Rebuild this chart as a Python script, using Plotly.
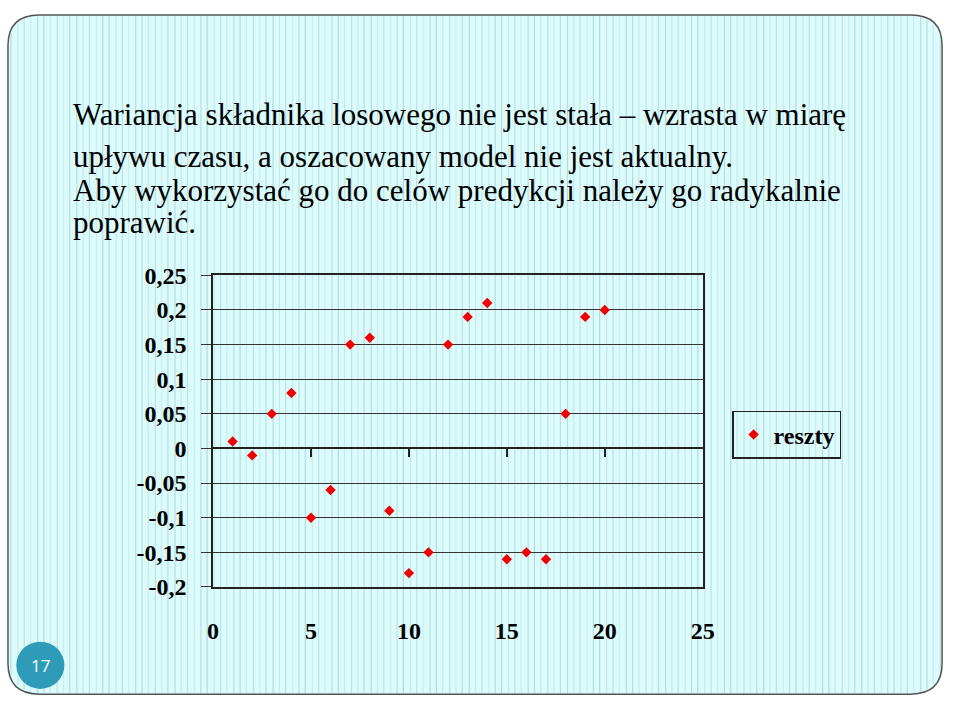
import math
import plotly.graph_objects as go

# ---------------- data ----------------
x_values = [1, 2, 3, 4, 5, 6, 7, 8, 9, 10, 11, 12, 13, 14, 15, 16, 17, 18, 19, 20]
residuals = [0.01, -0.01, 0.05, 0.08, -0.10, -0.06, 0.15, 0.16, -0.09, -0.18,
             -0.15, 0.15, 0.19, 0.21, -0.16, -0.15, -0.16, 0.05, 0.19, 0.20]
series_name = "reszty"

y_tick_vals = [-0.2, -0.15, -0.1, -0.05, 0, 0.05, 0.1, 0.15, 0.2, 0.25]
y_tick_labels = ["-0,2", "-0,15", "-0,1", "-0,05", "0", "0,05", "0,1", "0,15", "0,2", "0,25"]
x_tick_vals = [0, 5, 10, 15, 20, 25]
x_tick_labels = ["0", "5", "10", "15", "20", "25"]
x_inner_ticks = [5, 10, 15, 20]

title_lines = [
    "Wariancja składnika losowego nie jest stała – wzrasta w miarę",
    "upływu czasu, a oszacowany model nie jest aktualny.",
    "Aby wykorzystać go do celów predykcji należy go radykalnie",
    "poprawić.",
]
slide_number = "17"

# ---------------- layout helpers ----------------
W, H = 959, 712
def px(x):
    return x / W
def py(y):
    return 1 - y / H

SERIF = "Liberation Serif, Times New Roman, serif"

dom_x = [px(211), px(710)]
dom_y = [py(595.7), py(272.3)]
y_min, y_max = -0.2, 0.25
zero_pos = dom_y[0] + (0 - y_min) / (y_max - y_min) * (dom_y[1] - dom_y[0])

fig = go.Figure()
fig.add_trace(go.Scatter(
    x=x_values, y=residuals, mode="markers", name=series_name,
    marker=dict(symbol="diamond", size=8, color="#f00000"),
    xaxis="x", yaxis="y",
))
# invisible helper trace so the zero-crossing axis is drawn
fig.add_trace(go.Scatter(x=[0], y=[None], xaxis="x2", yaxis="y",
                         showlegend=False, hoverinfo="skip", mode="markers"))

# ---------------- background shapes ----------------
shapes = []
x0, y0, x1, y1, r = 2, 2, 954, 707, 32
path = (f"M {px(x0+r)},{py(y0)} L {px(x1-r)},{py(y0)} "
        f"Q {px(x1)},{py(y0)} {px(x1)},{py(y0+r)} "
        f"L {px(x1)},{py(y1-r)} Q {px(x1)},{py(y1)} {px(x1-r)},{py(y1)} "
        f"L {px(x0+r)},{py(y1)} Q {px(x0)},{py(y1)} {px(x0)},{py(y1-r)} "
        f"L {px(x0)},{py(y0+r)} Q {px(x0)},{py(y0)} {px(x0+r)},{py(y0)} Z")
shapes.append(dict(type="path", path=path, xref="paper", yref="paper",
                   fillcolor="#dcfbfb", line=dict(color="rgba(0,0,0,0)", width=0),
                   layer="below"))

# vertical stripes
sx = 5.0
k = 0
while sx < x1 - 1:
    if sx < x0 + r:
        d = x0 + r - sx
        dy = r - math.sqrt(max(r * r - d * d, 0))
    elif sx > x1 - r:
        d = sx - (x1 - r)
        dy = r - math.sqrt(max(r * r - d * d, 0))
    else:
        dy = 0
    alpha = [0.40, 0.22, 0.32, 0.18, 0.36][k % 5]
    shapes.append(dict(type="line", xref="paper", yref="paper",
                       x0=px(sx), x1=px(sx), y0=py(y0 + dy + 1), y1=py(y1 - dy - 1),
                       line=dict(color=f"rgba(120,175,190,{alpha})", width=1.2),
                       layer="below"))
    sx += 6.4 + (0.8 if k % 3 == 0 else 0)
    k += 1

# border outline
shapes.append(dict(type="path", path=path, xref="paper", yref="paper",
                   fillcolor="rgba(0,0,0,0)", line=dict(color="#555555", width=1.5),
                   layer="below"))

# slide number circle
cx, cy, cr = 35, 677, 24.5
shapes.append(dict(type="circle", xref="paper", yref="paper",
                   x0=px(cx - cr), x1=px(cx + cr), y0=py(cy + cr), y1=py(cy - cr),
                   fillcolor="#2e9cb8", line=dict(width=0), layer="below"))

# ---------------- annotations ----------------
annotations = []
line_centers = [105.5, 148.5, 184.5, 217.5]
for txt, yc in zip(title_lines, line_centers):
    annotations.append(dict(text=txt, xref="paper", yref="paper",
                            x=px(66), y=py(yc), xanchor="left", yanchor="middle",
                            showarrow=False,
                            font=dict(family=SERIF, size=31, color="#000000")))
annotations.append(dict(text=slide_number, xref="paper", yref="paper",
                        x=px(cx), y=py(cy), xanchor="center", yanchor="middle",
                        showarrow=False,
                        font=dict(family="Open Sans, sans-serif", size=17, color="#ffffff")))

tick_font = dict(family=SERIF, size=24, color="#000000", weight="bold")

fig.update_layout(
    width=W, height=H,
    margin=dict(l=0, r=0, t=0, b=0),
    paper_bgcolor="#ffffff",
    plot_bgcolor="rgba(0,0,0,0)",
    shapes=shapes,
    annotations=annotations,
    showlegend=True,
    legend=dict(x=px(740), y=py(413), xanchor="left", yanchor="top",
                bgcolor="rgba(0,0,0,0)", bordercolor="#222222", borderwidth=1.5,
                font=dict(family=SERIF, size=24, color="#000000", weight="bold")),
    xaxis=dict(domain=dom_x, range=[0, 25], anchor="y",
               showgrid=False, zeroline=False,
               showline=True, mirror=True, linecolor="#222222", linewidth=1.5,
               ticks="", tickvals=x_tick_vals, ticktext=x_tick_labels,
               ticklabelstandoff=22, tickfont=tick_font),
    xaxis2=dict(overlaying="x", anchor="free", position=zero_pos, side="bottom",
                range=[0, 25], showgrid=False, zeroline=False,
                showline=True, linecolor="#222222", linewidth=1.5,
                ticks="outside", ticklen=8, tickwidth=1.5, tickcolor="#222222",
                tickvals=x_inner_ticks, showticklabels=False),
    yaxis=dict(domain=dom_y, range=[y_min, y_max], anchor="x",
               showgrid=True, gridcolor="#333333", gridwidth=1.4, zeroline=False,
               showline=True, mirror=True, linecolor="#222222", linewidth=1.5,
               ticks="outside", ticklen=10, tickwidth=1.4, tickcolor="#333333",
               tickvals=y_tick_vals, ticktext=y_tick_labels,
               ticklabelstandoff=10, tickfont=tick_font),
)

fig.write_html("out.html")
